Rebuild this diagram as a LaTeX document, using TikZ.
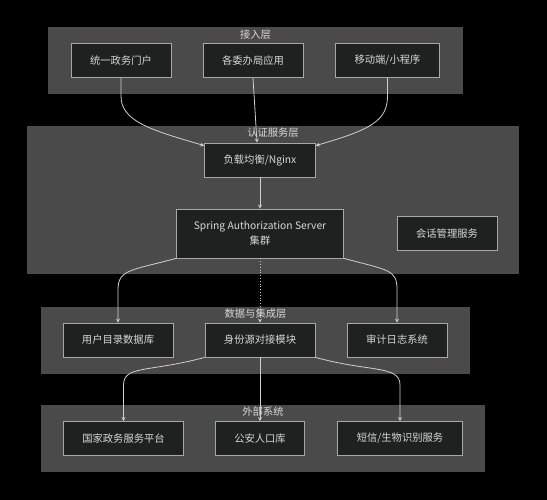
\documentclass[tikz,border=0pt]{standalone}
\usepackage{fontspec}
\setmainfont{Noto Sans CJK SC}
\usepackage{tikz}
\usepackage{xcolor}
\usetikzlibrary{positioning}
\definecolor{layerfill}{HTML}{4A4A4A}
\definecolor{boxfill}{HTML}{1F2020}
\definecolor{boxline}{HTML}{A8A8A8}
\definecolor{txt}{HTML}{D8D8D8}
\definecolor{wire}{HTML}{D0D0D0}
\tikzstyle{svc} = [rectangle, draw=boxline, fill=boxfill, text=txt, inner xsep=19pt, minimum height=34pt, line width=0.8pt]
\tikzstyle{layer} = [rectangle, fill=layerfill, inner sep=0pt]
\tikzstyle{layertitle} = [text=txt, inner sep=1pt]
\tikzstyle{link} = [draw=wire, line width=0.8pt]

\begin{document}
\begin{tikzpicture}[->,>=stealth,x=1pt,y=-1pt,auto,font=\fontsize{10.3}{15}\selectfont]
  \path[fill=black, use as bounding box] (0,0) rectangle (547,500);

  % layers
  \node[layer, minimum width=415pt, minimum height=67pt] (access) at (255.5,60.5) {};
  \node[layer, minimum width=492pt, minimum height=148pt] (auth) at (273,200) {};
  \node[layer, minimum width=429pt, minimum height=67pt] (data) at (255.5,340.5) {};
  \node[layer, minimum width=444pt, minimum height=67pt] (ext) at (263,438.5) {};
  \node[layertitle] (access_T) at ([yshift=-8pt]access.north) {接入层};
  \node[layertitle] (auth_T) at ([yshift=-7pt]auth.north) {认证服务层};
  \node[layertitle] (data_T) at ([yshift=-7pt]data.north) {数据与集成层};
  \node[layertitle] (ext_T) at ([yshift=-7pt]ext.north) {外部系统};

  \node[svc] (apps) at (253,60.5) {各委办局应用};
  \node[svc] (portal) [left of=apps, node distance=132pt] {统一政务门户};
  \node[svc] (mobile) [right of=apps, node distance=134.5pt] {移动端/小程序};
  \node[svc] (nginx) at (260,160) {负载均衡/Nginx};
  \node[svc, inner xsep=10pt, minimum width=167pt, minimum height=49pt, align=center] (sas) [below of=nginx, node distance=73.5pt] {Spring Authorization Server\\集群};
  \node[svc] (session) [right of=sas, node distance=187pt] {会话管理服务};
  \node[svc] (idsrc) [below of=sas, node distance=106.5pt] {身份源对接模块};
  \node[svc] (userdb) [left of=idsrc, node distance=142pt] {用户目录数据库};
  \node[svc] (audit) [right of=idsrc, node distance=137pt] {审计日志系统};
  \node[svc] (police) [below of=idsrc, node distance=98.5pt] {公安人口库};
  \node[svc] (govplat) [left of=police, node distance=136.5pt] {国家政务服务平台};
  \node[svc] (sms) [right of=police, node distance=140pt] {短信/生物识别服务};

  % connectors
  \path[link] (portal.south) -- ++(0,18) .. controls +(0,25) and +(-55,-16) .. ([yshift=-3pt]nginx.north west);
  \path[link] (apps.south) -- ([xshift=-3pt]nginx.north);
  \path[link] (mobile.south) -- ++(0,18) .. controls +(0,25) and +(55,-16) .. ([yshift=-3pt]nginx.north east);
  \path[link] (nginx) -- (sas);
  \path[link] (sas.south west) .. controls +(-45,12) and +(0,-20) .. ([yshift=33pt]userdb.north) -- (userdb.north);
  \path[link, dotted] (sas) -- (idsrc);
  \path[link] (sas.south east) .. controls +(45,12) and +(0,-20) .. ([yshift=33pt]audit.north) -- (audit.north);
  \path[link] (idsrc.south west) .. controls +(-55,15) and +(0,-20) .. ([yshift=36pt]govplat.north) -- (govplat.north);
  \path[link] (idsrc) -- (police);
  \path[link] (idsrc.south east) .. controls +(55,15) and +(0,-20) .. ([yshift=36pt]sms.north) -- (sms.north);
\end{tikzpicture}
\end{document}
